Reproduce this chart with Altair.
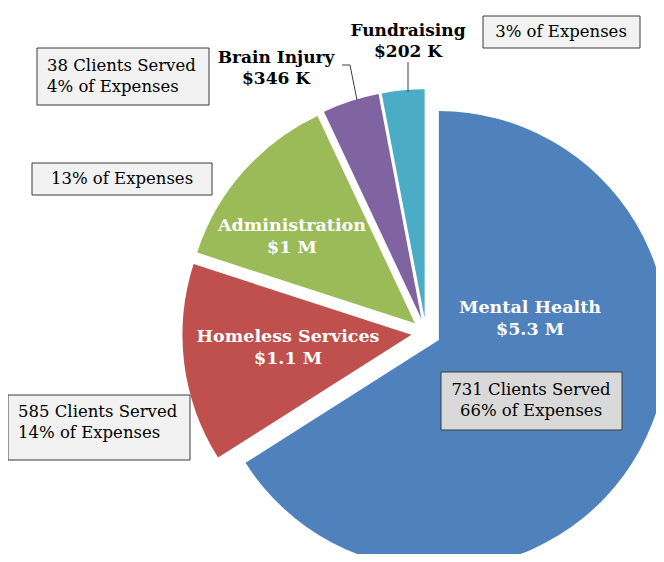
import altair as alt
import pandas as pd

# ---- data ----
categories = ["Mental Health", "Homeless Services", "Administration", "Brain Injury", "Fundraising"]
expense_pct = [66, 14, 13, 4, 3]
amounts = ["$5.3 M", "$1.1 M", "$1 M", "$346 K", "$202 K"]
clients_served = [731, 585, None, 38, None]
colors = ["#4f81bd", "#c0504d", "#9bbb59", "#8064a2", "#4bacc6"]

# ---- layout (reference pixel coordinates, page margin removed below) ----
OFF = 8
CX, CY = 426 - OFF, 333 - OFF
R = 229
EXPLODE = 14.7
FONT = "DejaVu Serif"

# y is the first line's centre
inside_pos = {"Mental Health": (530, 308), "Homeless Services": (288, 337), "Administration": (292, 226)}
outside_pos = {"Brain Injury": (276, 58), "Fundraising": (408, 31)}
# x0, y0, x1, y1, text x, first-line y, align
box_pos = {
    "Mental Health": (441, 372, 622, 430, 531, 390, "center"),
    "Homeless Services": (8, 395, 190, 460, 18, 412, "left"),
    "Administration": (32, 163, 212, 195, 122, 179, "center"),
    "Brain Injury": (37, 48, 209, 105, 47, 66, "left"),
    "Fundraising": (483, 16, 640, 48, 561, 32, "center"),
}
leaders = [  # x, y, x2, y2
    (342, 65, 350, 65),
    (350, 65, 357, 100),
    (408, 62, 408, 92),
]

slices = pd.DataFrame({"category": categories, "pct": expense_pct, "order": list(range(len(categories)))})

pie = (
    alt.Chart(slices)
    .transform_window(cum="sum(pct)", sort=[alt.SortField("order")], frame=[None, 0])
    .transform_joinaggregate(total="sum(pct)")
    .transform_calculate(a0="2*PI*(datum.cum - datum.pct)/datum.total", a1="2*PI*datum.cum/datum.total")
    .transform_calculate(mid="(datum.a0 + datum.a1)/2")
    .transform_calculate(cx=f"{CX} + {EXPLODE}*sin(datum.mid)", cy=f"{CY} - {EXPLODE}*cos(datum.mid)")
    .mark_arc(radius=R)
    .encode(
        theta=alt.Theta("a0:Q", scale=None, stack=None),
        theta2="a1:Q",
        x=alt.X("cx:Q", scale=None),
        y=alt.Y("cy:Q", scale=None),
        color=alt.Color("category:N", scale=alt.Scale(domain=categories, range=colors), legend=None),
    )
)

rows_in, rows_out, rows_box = [], [], []
for cat, pct, amt, cl in zip(categories, expense_pct, amounts, clients_served):
    label = f"{cat}\n{amt}"
    if cat in inside_pos:
        x, y = inside_pos[cat]
        rows_in.append({"t": label, "x": x - OFF, "y": y - OFF})
    if cat in outside_pos:
        x, y = outside_pos[cat]
        rows_out.append({"t": label, "x": x - OFF, "y": y - OFF})
    x0, y0, x1, y1, tx, ty, al = box_pos[cat]
    txt = (f"{cl} Clients Served\n" if cl else "") + f"{pct}% of Expenses"
    rows_box.append({
        "t": txt, "x0": x0 - OFF, "y0": y0 - OFF, "x1": x1 - OFF, "y1": y1 - OFF,
        "tx": tx - OFF, "ty": ty - OFF, "al": al,
        "fill": "#d9d9d9" if cat == "Mental Health" else "#f2f2f2",
    })

df_in = pd.DataFrame(rows_in)
df_out = pd.DataFrame(rows_out)
df_box = pd.DataFrame(rows_box)
df_lead = pd.DataFrame([{"x": a - OFF, "y": b - OFF, "x2": c - OFF, "y2": d - OFF} for a, b, c, d in leaders])

inside_text = alt.Chart(df_in).mark_text(
    font=FONT, fontSize=17.5, fontWeight="bold", color="white", lineBreak="\n", lineHeight=22, baseline="middle"
).encode(x=alt.X("x:Q", scale=None), y=alt.Y("y:Q", scale=None), text="t:N")

outside_text = alt.Chart(df_out).mark_text(
    font=FONT, fontSize=17, fontWeight="bold", color="black", lineBreak="\n", lineHeight=21, baseline="middle"
).encode(x=alt.X("x:Q", scale=None), y=alt.Y("y:Q", scale=None), text="t:N")

leader_lines = alt.Chart(df_lead).mark_rule(color="#404040", strokeWidth=1).encode(
    x=alt.X("x:Q", scale=None), y=alt.Y("y:Q", scale=None), x2="x2:Q", y2="y2:Q"
)

boxes = alt.Chart(df_box).mark_rect(stroke="#3a3a3a", strokeWidth=1).encode(
    x=alt.X("x0:Q", scale=None), y=alt.Y("y0:Q", scale=None), x2="x1:Q", y2="y1:Q",
    fill=alt.Fill("fill:N", scale=None),
)

box_text_left = alt.Chart(df_box[df_box["al"] == "left"]).mark_text(
    font=FONT, fontSize=16.5, color="black", lineBreak="\n", lineHeight=21, baseline="middle", align="left"
).encode(x=alt.X("tx:Q", scale=None), y=alt.Y("ty:Q", scale=None), text="t:N")

box_text_center = alt.Chart(df_box[df_box["al"] == "center"]).mark_text(
    font=FONT, fontSize=16.5, color="black", lineBreak="\n", lineHeight=21, baseline="middle", align="center"
).encode(x=alt.X("tx:Q", scale=None), y=alt.Y("ty:Q", scale=None), text="t:N")

chart = (
    alt.layer(pie, leader_lines, inside_text, outside_text, boxes, box_text_left, box_text_center)
    .properties(width=648, height=546, autosize=alt.AutoSizeParams(type="none"), padding=0)
    .configure_view(stroke=None)
)

chart.save("out.html", embed_options={"renderer": "svg", "actions": False})
